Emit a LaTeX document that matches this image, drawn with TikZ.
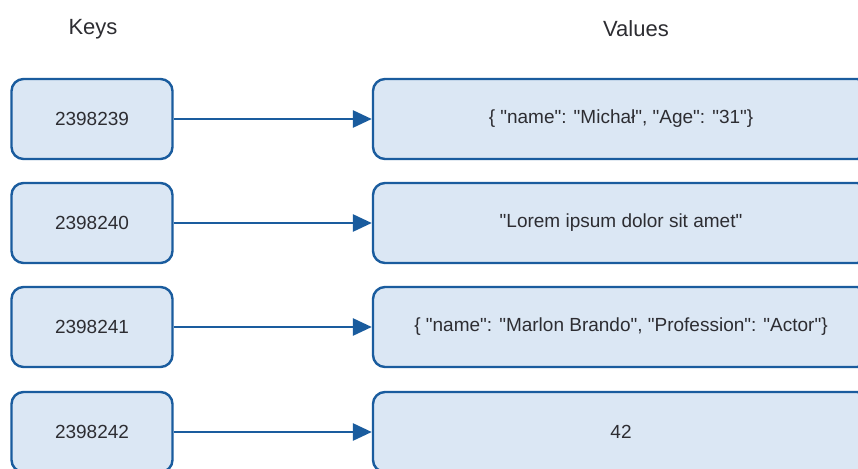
\documentclass[tikz,border=0pt]{standalone}
\usepackage{fontspec}
\setmainfont{Liberation Sans}
\usetikzlibrary{arrows.meta}
\definecolor{boxfill}{RGB}{219,231,244}
\definecolor{boxline}{RGB}{26,92,158}
\definecolor{ink}{RGB}{45,45,50}
\newcommand\qt{\textquotedbl}
\tikzset{
  keybox/.style={draw=boxline, fill=boxfill, line width=2.4pt, rounded corners=12pt,
    minimum width=161pt, minimum height=80pt, inner sep=0pt, text=ink,
    font=\fontsize{19}{23}\selectfont},
  valbox/.style={keybox, minimum width=496pt},
  header/.style={text=ink, font=\fontsize{22}{26}\selectfont},
  link/.style={draw=boxline, line width=2.8pt, -{Triangle[length=19pt,width=17pt]}}
}
\begin{document}
\begin{tikzpicture}[x=1pt,y=-1pt]
  \useasboundingbox (0,0) rectangle (858,468);
  \clip (0,0) rectangle (858,468);
  \fill[white] (0,0) rectangle (858,468);
  % column headings
  \node[header] (hk) at (93,29) {Keys};
  \node[header] (hv) at (636,29) {Values};
  % key boxes
  \node[keybox] (k1) at (92,119) {2398239};
  \node[keybox] (k2) at (92,223) {2398240};
  \node[keybox] (k3) at (92,327) {2398241};
  \node[keybox] (k4) at (92,432) {2398242};
  % value boxes
  \node[valbox] (v1) at (621,119) {\{ \qt name\qt: \qt Michał\qt, \qt Age\qt: \qt 31\qt\}};
  \node[valbox] (v2) at (621,223) {\qt Lorem ipsum dolor sit amet\qt};
  \node[valbox] (v3) at (621,327) {\{ \qt name\qt: \qt Marlon Brando\qt, \qt Profession\qt: \qt Actor\qt\}};
  \node[valbox] (v4) at (621,432) {42};
  % key -> value links
  \foreach \i in {1,...,4} \draw[link] (k\i) -- (v\i);
\end{tikzpicture}
\end{document}
